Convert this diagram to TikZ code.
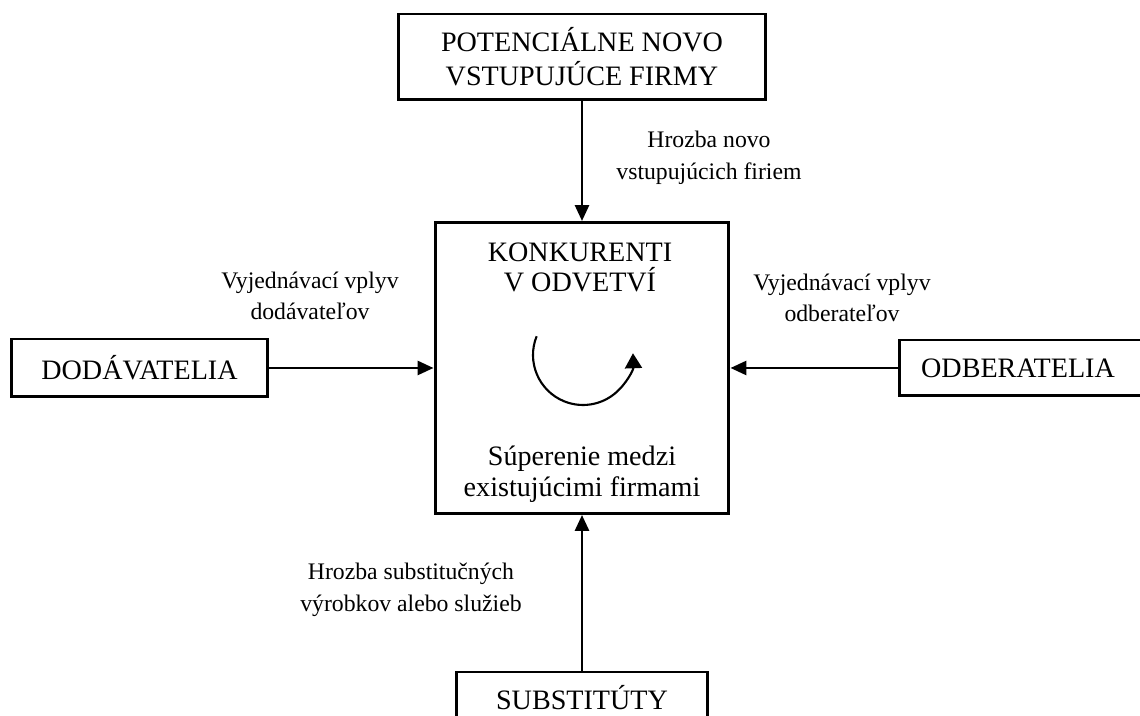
\documentclass[tikz,border=0pt]{standalone}
\usepackage{fontspec}
\setmainfont{Liberation Serif}
\usetikzlibrary{arrows.meta}
\tikzset{
  box/.style={draw,line width=1.7pt,align=center,inner sep=0pt,font=\fontsize{16}{19.5}\selectfont},
  conn/.style={line width=1.6pt,-{Triangle[length=0.32cm,width=0.28cm]}},
  lbl/.style={align=center,inner sep=0pt,font=\fontsize{13.5}{18}\selectfont}
}
\begin{document}
\begin{tikzpicture}[x=0.02cm,y=0.02cm]
  \clip (0,0) rectangle (1140,716);
  \fill[white] (0,0) rectangle (1140,716);
  % boxes
  \node[box,minimum width=7.36cm,minimum height=1.72cm] (potencial) at (582,659)
    {POTENCIÁLNE NOVO\\VSTUPUJÚCE FIRMY};
  \node[box,minimum width=5.88cm,minimum height=5.82cm] (konkurenti) at (582,348) {};
  \node[box,minimum width=5.14cm,minimum height=1.16cm] (dodavatelia) at (139.5,348) {DODÁVATELIA};
  \node[box,minimum width=5.24cm,minimum height=1.12cm] (odberatelia) at (1030,348) {ODBERATELIA\hspace*{0.48cm}};
  \node[box,minimum width=5.02cm,minimum height=1.04cm] (substituty) at (582,18) {SUBSTITÚTY};
  % texts inside the middle box
  \node[box,draw=none,font=\fontsize{16}{17}\selectfont] (odvetvie) at (580,449) {KONKURENTI\\V ODVETVÍ};
  \node[box,draw=none,font=\fontsize{16}{17.5}\selectfont] (superenie) at (582,242) {Súperenie medzi\\existujúcimi firmami};
  \draw[line width=1.2pt,-{Triangle[length=0.3cm,width=0.34cm]}]
    (583,361) ++(158:50) arc[start angle=158,end angle=362,radius=50];
  % connectors
  \draw[conn] (potencial) -- (konkurenti);
  \draw[conn] (dodavatelia) -- (konkurenti);
  \draw[conn] (odberatelia) -- (konkurenti);
  \draw[conn] (substituty) -- (konkurenti);
  % labels
  \node[lbl] (hrozbanovo) at (709,558) {Hrozba novo\\vstupujúcich firiem};
  \node[lbl] (vplyvdod) at (310,420) {Vyjednávací vplyv\\dodávateľov};
  \node[lbl] (vplyvodb) at (842,418) {Vyjednávací vplyv\\odberateľov};
  \node[lbl] (hrozbasub) at (411,126) {Hrozba substitučných\\výrobkov alebo služieb};
\end{tikzpicture}
\end{document}
